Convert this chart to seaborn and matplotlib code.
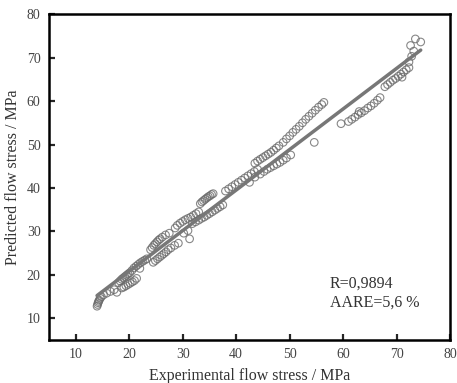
import numpy as np
import pandas as pd
import matplotlib
matplotlib.use("Agg")
import matplotlib.pyplot as plt
import seaborn as sns

# experimental vs predicted flow stress (MPa)
exp_stress = [
    14.0, 14.1, 14.2, 14.3, 14.4, 14.6, 14.8, 15.2, 15.8, 16.5, 17.2, 17.7,
    18.0, 18.3, 18.6, 18.9, 19.2, 19.5, 19.8, 20.1,
    18.6, 19.0, 19.4, 19.8, 20.2, 20.6, 21.0, 21.4,
    20.5, 20.9, 21.3, 21.7, 22.1, 22.5, 22.9, 23.3, 22.0,
    24.0, 24.3, 24.6, 24.9, 25.2, 25.5, 25.8, 26.2, 26.8, 27.5,
    24.5, 24.9, 25.3, 25.7, 26.1, 26.5, 26.9, 27.3, 27.8, 28.5, 29.2,
    28.6, 29.0, 29.5, 30.0, 30.5, 31.0, 31.5, 32.0, 32.5, 33.0,
    31.3, 30.2, 31.0,
    33.3, 33.6, 33.9, 34.2, 34.5, 34.8, 35.1, 35.4, 35.7,
    31.8, 32.4, 33.0, 33.5, 34.0, 34.5, 35.0, 35.5, 36.0, 36.5, 37.0, 37.5,
    38.0, 38.6, 39.2, 39.8, 40.4, 41.0, 41.6, 42.2, 42.8, 43.4, 44.0,
    43.5, 44.0, 44.5, 45.0, 45.5, 46.0, 46.5, 47.0, 47.5, 48.0,
    42.5, 43.5, 44.5, 45.2, 45.8, 46.4, 47.0, 47.6, 48.2, 48.8, 49.4, 50.2,
    48.8, 49.4, 50.0, 50.6, 51.2, 51.8, 52.4, 53.0, 53.6, 54.2, 54.8, 55.4, 56.0, 56.4,
    54.6, 59.6,
    61.0, 61.6, 62.2, 62.8, 63.0, 63.4, 64.0, 64.6, 65.2, 65.8, 66.4, 66.9,
    67.8, 68.3, 68.8, 69.3, 69.8, 70.3, 70.8, 71.3, 71.8, 72.3, 71.0,
    72.3, 72.8, 73.2, 72.6, 73.5, 74.5,
]
pred_stress = [
    12.8, 13.2, 13.6, 13.9, 14.2, 14.6, 15.0, 15.4, 15.8, 16.2, 16.6, 16.0,
    18.2, 18.6, 19.0, 19.3, 19.6, 19.9, 20.2, 20.5,
    17.0, 17.2, 17.5, 17.8, 18.1, 18.4, 18.7, 19.2,
    21.0, 21.6, 22.0, 22.4, 22.8, 23.1, 23.4, 23.7, 21.5,
    25.8, 26.3, 26.8, 27.2, 27.6, 28.0, 28.3, 28.7, 29.2, 29.6,
    22.9, 23.3, 23.7, 24.1, 24.5, 24.9, 25.3, 25.8, 26.2, 26.8, 27.3,
    30.8, 31.4, 31.9, 32.3, 32.7, 33.0, 33.3, 33.7, 34.1, 34.5,
    28.3, 29.6, 30.2,
    36.4, 36.8, 37.1, 37.4, 37.7, 38.0, 38.2, 38.5, 38.7,
    31.8, 32.2, 32.6, 33.0, 33.3, 33.7, 34.1, 34.5, 34.9, 35.3, 35.7, 36.1,
    39.3, 39.8, 40.3, 40.8, 41.3, 41.8, 42.3, 42.8, 43.3, 43.8, 44.3,
    45.7, 46.2, 46.6, 47.0, 47.4, 47.8, 48.2, 48.7, 49.2, 49.7,
    41.3, 42.5, 43.2, 43.8, 44.3, 44.7, 45.1, 45.5, 45.9, 46.4, 46.9, 47.6,
    50.5, 51.3, 52.0, 52.8, 53.5, 54.2, 55.0, 55.8, 56.5, 57.2, 57.9, 58.6, 59.2, 59.7,
    50.5, 54.8,
    55.3, 55.8, 56.3, 56.9, 57.6, 57.3, 57.8, 58.4, 58.9, 59.5, 60.2, 60.8,
    63.3, 63.8, 64.3, 64.8, 65.2, 65.7, 66.2, 66.7, 67.2, 67.7, 65.5,
    69.0, 70.3, 71.5, 72.8, 74.3, 73.6,
]

df = pd.DataFrame({"exp": exp_stress, "pred": pred_stress})

sns.set_style("ticks")
plt.rcParams["font.family"] = ["Liberation Serif", "DejaVu Serif"]

fig = plt.figure(figsize=(4.57, 3.83), dpi=100)
ax = fig.add_axes([0.107, 0.112, 0.878, 0.851])

sns.regplot(x="exp", y="pred", data=df, ax=ax, ci=None, truncate=True,
            scatter_kws=dict(s=30, facecolors="none", edgecolors="#6a6a6a", linewidths=0.8),
            line_kws=dict(color="#777777", lw=2.5))

ax.set_xlim(5, 80)
ax.set_ylim(5, 80)
ax.set_xticks([10, 20, 30, 40, 50, 60, 70, 80])
ax.set_yticks([10, 20, 30, 40, 50, 60, 70, 80])
ax.set_xlabel("Experimental flow stress / MPa", fontsize=11.5, color="#333333", labelpad=5)
ax.set_ylabel("Predicted flow stress / MPa", fontsize=11.5, color="#333333", labelpad=4)
ax.tick_params(direction="in", length=4, width=1.6, labelsize=10, labelcolor="#444444", pad=6)
for sp in ax.spines.values():
    sp.set_linewidth(1.8)
    sp.set_color("black")

ax.text(57.5, 12.6, "R=0,9894\nAARE=5,6 %", fontsize=11.5, color="#333333",
        linespacing=1.3)

plt.savefig("out.png", dpi=100)
